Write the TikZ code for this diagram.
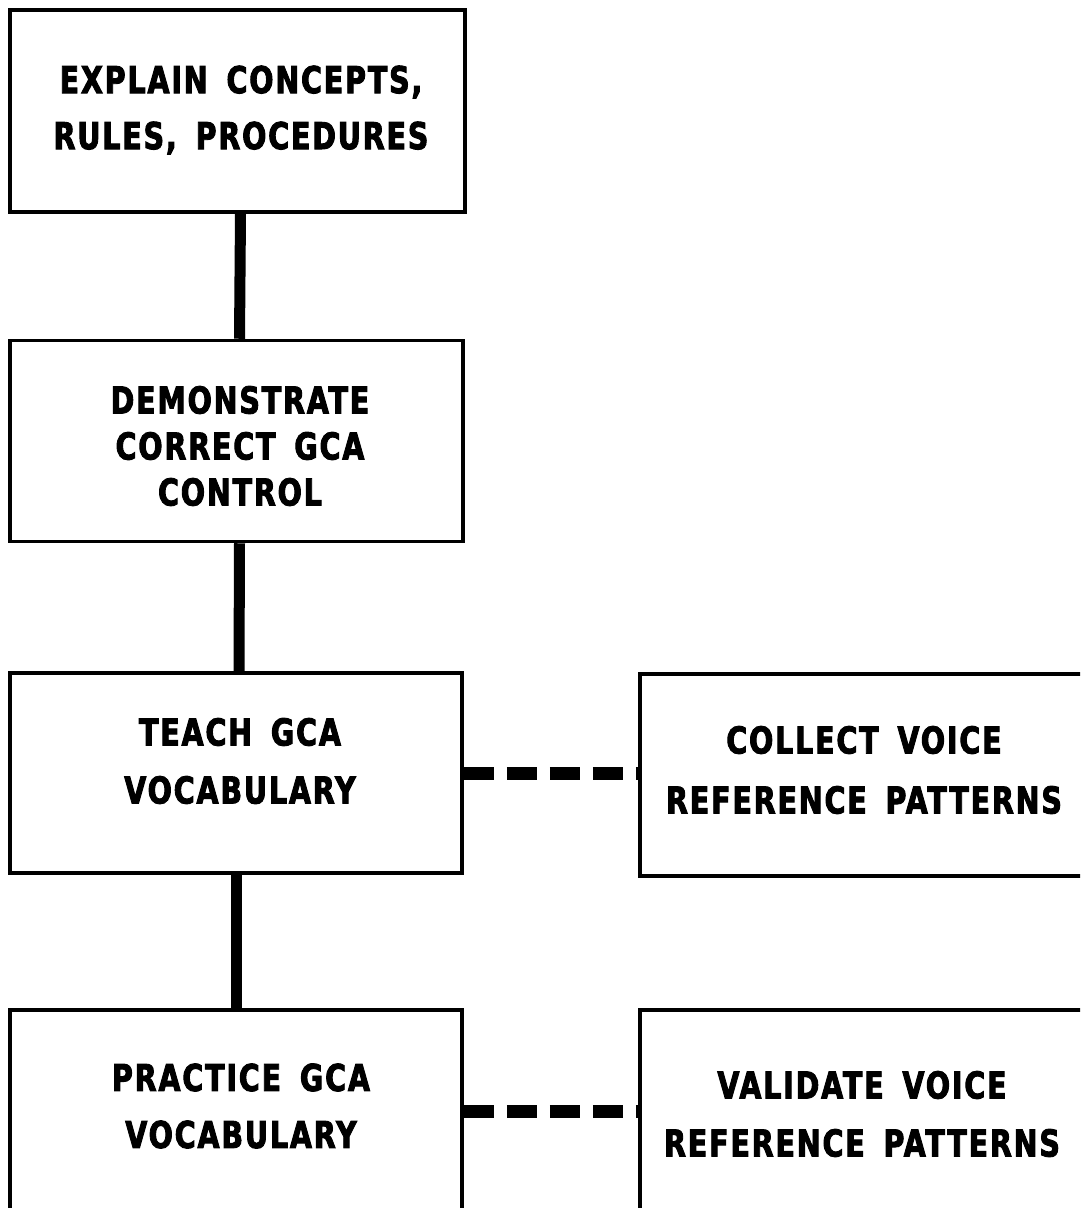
\documentclass[tikz,border=0pt]{standalone}
\usepackage{fontspec}
\newfontfamily\lblfont{DejaVu Sans}[FakeStretch=0.77, LetterSpace=5, WordSpace=1.6, FakeBold=2.5]
\begin{document}
\begin{tikzpicture}[x=1pt,y=-1pt,
  box/.style={draw=black, line width=3.5pt, fill=white, minimum width=453pt,
    minimum height=201pt, inner sep=0pt},
  lbl/.style={align=center, inner sep=0pt,
    font=\lblfont\bfseries\fontsize{37}{#1}\selectfont},
  link/.style={line width=11pt},
  dlink/.style={line width=13pt, dash pattern=on 30pt off 13pt}]
  % page frame
  \fill[white] (0,0) rectangle (1080,1208);
  \useasboundingbox (0,0) rectangle (1080,1208);
  \clip (0,0) rectangle (1080,1208);

  % process boxes
  \node[box, minimum width=455pt, minimum height=202pt] (b1) at (237.5,111) {};
  \node[box] (b2) at (236.5,441) {};
  \node[box, minimum width=452pt, minimum height=200pt] (b3) at (236,773) {};
  \node[box, minimum width=452pt, minimum height=202pt] (b4) at (236,1111) {};
  \node[box, minimum width=446pt, minimum height=202pt] (r1) at (863,775) {};
  \node[box, minimum width=446pt, minimum height=202pt] (r2) at (863,1111) {};

  % box texts
  \node[lbl=56] (t1) at (241,110) {EXPLAIN CONCEPTS,\\RULES, PROCEDURES};
  \node[lbl=46] (t2) at (240,446) {DEMONSTRATE\\CORRECT GCA\\CONTROL};
  \node[lbl=58] (t3) at (240,761) {TEACH GCA\\VOCABULARY};
  \node[lbl=57] (t4) at (241,1106) {PRACTICE GCA\\VOCABULARY};
  \node[lbl=60] (t5) at (864,770) {COLLECT VOICE\\REFERENCE PATTERNS};
  \node[lbl=58] (t6) at (862,1114) {VALIDATE VOICE\\REFERENCE PATTERNS};

  % main sequence
  \draw[link] ([xshift=3pt]b1.south) -- ([xshift=3pt]b2.north);
  \draw[link] ([xshift=3pt]b2.south) -- ([xshift=3pt]b3.north);
  \draw[link] (b3.south) -- (b4.north);

  % side links
  \draw[dlink] (b3.east) -- (b3.east -| r1.west);
  \draw[dlink] (b4.east) -- (b4.east -| r2.west);
\end{tikzpicture}
\end{document}
